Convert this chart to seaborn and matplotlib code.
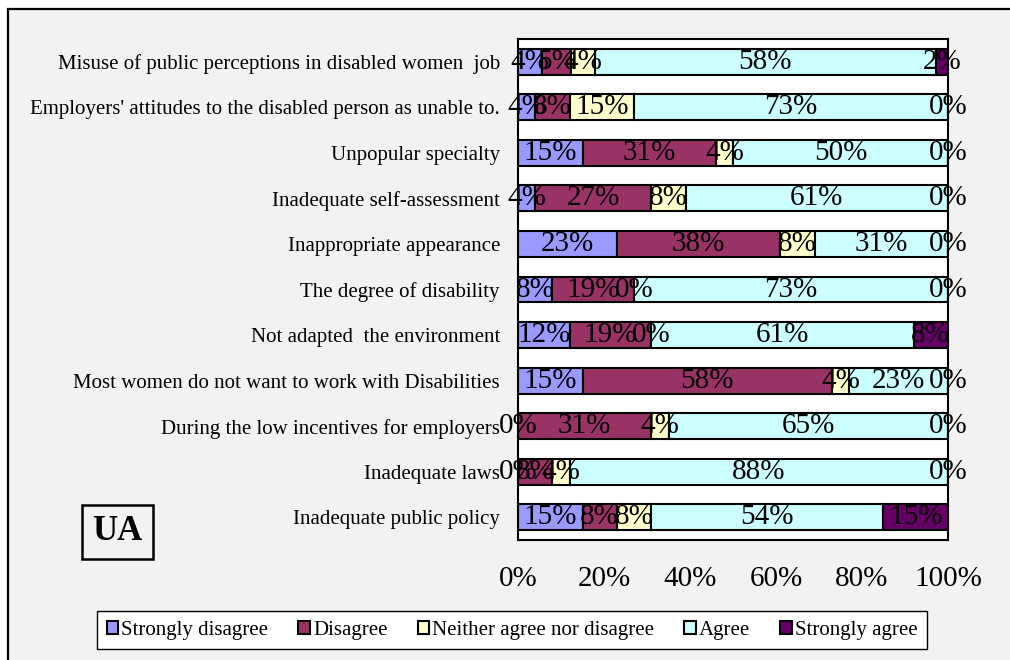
import numpy as np
import pandas as pd
import matplotlib
matplotlib.use("Agg")
import matplotlib.pyplot as plt
import seaborn as sns
from matplotlib.patches import Rectangle

# Survey answers per barrier (shares, %)
categories = [
    "Misuse of public perceptions in disabled women  job",
    "Employers' attitudes to the disabled person as unable to.",
    "Unpopular specialty",
    "Inadequate self-assessment",
    "Inappropriate appearance",
    "The degree of disability",
    "Not adapted  the environment",
    "Most women do not want to work with Disabilities",
    "During the low incentives for employers",
    "Inadequate laws",
    "Inadequate public policy",
]
strongly_disagree = [4, 4, 15, 4, 23, 8, 12, 15, 0, 0, 15]
disagree = [5, 8, 31, 27, 38, 19, 19, 58, 31, 8, 8]
neither = [4, 15, 4, 8, 8, 0, 0, 4, 4, 4, 8]
agree = [58, 73, 50, 61, 31, 73, 61, 23, 65, 88, 54]
strongly_agree = [2, 0, 0, 0, 0, 0, 8, 0, 0, 0, 15]

series_names = ["Strongly disagree", "Disagree", "Neither agree nor disagree",
                "Agree", "Strongly agree"]
series_colors = ["#9999ff", "#993366", "#ffffcc", "#ccffff", "#660066"]
x_ticks = [0, 20, 40, 60, 80, 100]
country_label = "UA"

raw = pd.DataFrame(
    dict(zip(series_names,
             [strongly_disagree, disagree, neither, agree, strongly_agree])),
    index=categories,
)
# 100% stacked: each row scaled to its total
pct = raw.div(raw.sum(axis=1), axis=0) * 100

sns.set_style("white")
plt.rcParams["font.family"] = ["Liberation Serif", "DejaVu Serif"]
plt.rcParams["text.color"] = "black"
plt.rcParams["xtick.color"] = "black"
plt.rcParams["ytick.color"] = "black"

fig = plt.figure(figsize=(10.1, 6.6), dpi=100, facecolor="white")
# grey panel with a black frame behind everything
fig.patches.append(Rectangle((0.008, -0.2), 1.3, 0.2 + 0.9864,
                             transform=fig.transFigure, facecolor="#f2f2f2",
                             edgecolor="black", linewidth=1.6, zorder=-10))

ax = fig.add_axes([0.5129, 0.1818, 0.4257, 0.7591])
ax.set_facecolor("white")

left = np.zeros(len(categories))
for name, col in zip(series_names, series_colors):
    sns.barplot(x=pct[name].values, y=categories, order=categories, left=left,
                color=col, edgecolor="black", linewidth=1.5, width=0.57,
                errorbar=None, label=name, saturation=1, ax=ax)
    for i, (v, p) in enumerate(zip(raw[name].values, pct[name].values)):
        ax.text(left[i] + p / 2, i, f"{v:.0f}%", ha="center", va="center",
                fontsize=21, color="black", clip_on=False)
    left = left + pct[name].values

ax.set_xlim(0, 100)
ax.set_ylim(len(categories) - 0.5, -0.5)
ax.set_xticks(x_ticks)
ax.set_xticklabels([f"{t}%" for t in x_ticks], fontsize=21)
ax.set_yticks(range(len(categories)))
ax.set_yticklabels(categories, fontsize=15)
ax.tick_params(axis="x", length=0, pad=19, colors="black")
ax.tick_params(axis="y", length=0, pad=13, colors="black")
ax.set_xlabel("")
ax.set_ylabel("")
for side in ["left", "right", "top", "bottom"]:
    ax.spines[side].set_visible(True)
    ax.spines[side].set_color("black")
    ax.spines[side].set_linewidth(1.5)
if ax.get_legend() is not None:
    ax.get_legend().remove()

handles, labels = ax.get_legend_handles_labels()
leg = fig.legend(handles, labels, loc="center", bbox_to_anchor=(0.507, 0.045),
                 ncol=5, fontsize=15, frameon=True, fancybox=False,
                 edgecolor="black", facecolor="white", framealpha=1,
                 handlelength=0.55, handleheight=0.55, handletextpad=0.15,
                 columnspacing=1.45, borderpad=0.45, borderaxespad=0)
leg.get_frame().set_linewidth(1.0)
for t in leg.get_texts():
    t.set_color("black")

fig.text(0.116, 0.194, country_label, fontsize=25, fontweight="bold",
         ha="center", va="center", color="black",
         bbox=dict(boxstyle="square,pad=0.3", facecolor="none",
                   edgecolor="black", linewidth=1.8))

fig.savefig("out.png", dpi=100, facecolor=fig.get_facecolor())
